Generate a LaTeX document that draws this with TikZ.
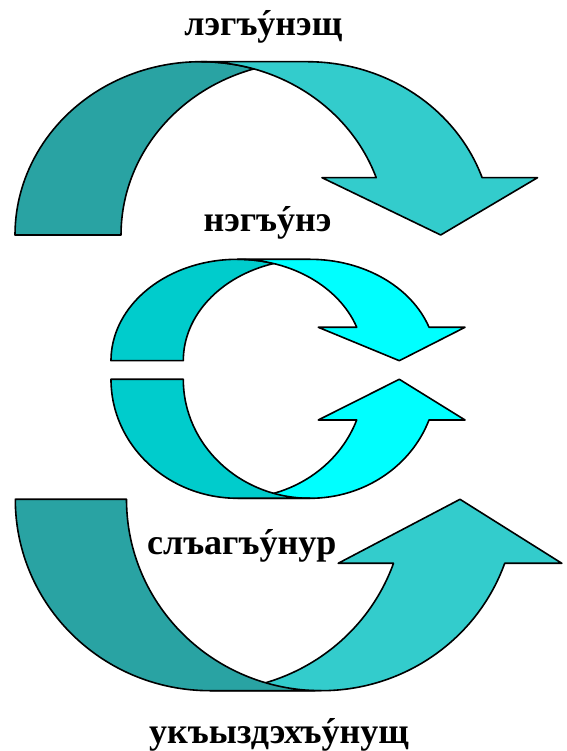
\documentclass[tikz,border=0pt]{standalone}
\usepackage{fontspec}
\setmainfont{Liberation Serif}
\definecolor{backteal}{RGB}{41,163,163}
\definecolor{frontteal}{RGB}{51,204,204}
\definecolor{backcyan}{RGB}{0,204,204}
\definecolor{frontcyan}{RGB}{0,255,255}
\newcommand\stressed[1]{{\accent"00B4 #1}}
\tikzset{
  band/.style={draw=black, line width=1.6pt, line join=round},
  word/.style={anchor=base, inner sep=0pt, font=\bfseries\fontsize{36}{40}\selectfont}
}
\begin{document}
\begin{tikzpicture}[x=1pt,y=1pt]
        \useasboundingbox (0,0) rectangle (566,751);

        % top arrow
        \filldraw[band, fill=backteal] (15,516) arc[start angle=180, end angle=73.42, x radius=185.8, y radius=173.3] arc[start angle=106.58, end angle=180, x radius=185.8, y radius=173.3] -- cycle;
        \filldraw[band, fill=frontteal] (322,573.3) -- (376.2,573.3) arc[start angle=19.31, end angle=90, x radius=185.8, y radius=173.3] -- (306.8,689.3) arc[start angle=90, end angle=19.31, x radius=185.8, y radius=173.3] -- (537.5,573.3) -- (440.7,516) -- cycle;

        % middle arrow, upper half
        \filldraw[band, fill=backcyan] (111,390.3) arc[start angle=180, end angle=73.38, x radius=126.4, y radius=101.4] arc[start angle=106.62, end angle=180, x radius=126.4, y radius=101.4] -- cycle;
        \filldraw[band, fill=frontcyan] (318.3,423.7) -- (356.75,423.7) arc[start angle=19.23, end angle=90, x radius=126.4, y radius=101.4] -- (309.7,491.7) arc[start angle=90, end angle=19.23, x radius=126.4, y radius=101.4] -- (465,423.7) -- (399.3,390.3) -- cycle;

        % middle arrow, lower half
        \filldraw[band, fill=frontcyan] (318.3,331) -- (356.7,331) arc[start angle=-20, end angle=-90, x radius=126.67, y radius=119] -- (309.97,252.7) arc[start angle=-90, end angle=-20, x radius=126.67, y radius=119] -- (465,331) -- (399.3,371.7) -- cycle;
        \filldraw[band, fill=backcyan] (111,371.7) arc[start angle=180, end angle=270, x radius=126.67, y radius=119] -- (309.97,252.7) arc[start angle=270, end angle=180, x radius=126.67, y radius=119] -- cycle;

        % bottom arrow
        \filldraw[band, fill=frontteal] (338.2,187.7) -- (393.5,187.7) arc[start angle=-19.53, end angle=-90, x radius=194.7, y radius=191.4] -- (321.2,60.3) arc[start angle=-90, end angle=-19.53, x radius=194.7, y radius=191.4] -- (561.8,187.7) -- (460,251.7) -- cycle;
        \filldraw[band, fill=backteal] (15.3,251.7) arc[start angle=180, end angle=270, x radius=194.7, y radius=191.4] -- (321.2,60.3) arc[start angle=270, end angle=180, x radius=194.7, y radius=191.4] -- cycle;

        % words
        \node[word] (top) at (263.3,715) {лэгъ\stressed{у}нэщ};
        \node[word] (upper) at (267.5,519) {нэгъ\stressed{у}нэ};
        \node[word] (lower) at (241.7,196) {слъагъ\stressed{у}нур};
        \node[word] (bottom) at (279,8) {укъыздэхъ\stressed{у}нущ};
\end{tikzpicture}
\end{document}
